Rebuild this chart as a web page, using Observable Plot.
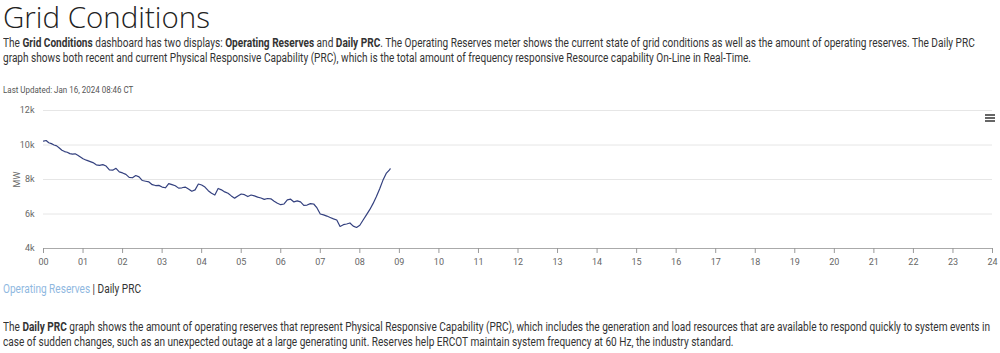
<!DOCTYPE html>
<html>
<head>
<meta charset="utf-8">
<script src="https://cdn.jsdelivr.net/npm/d3@7"></script>
<script src="https://cdn.jsdelivr.net/npm/@observablehq/plot@0.6"></script>
<style>
  body { margin: 0; background: #fff; font-family: Roboto, "Noto Sans", sans-serif; color: #333; }
  #page { position: relative; width: 1000px; height: 353px; overflow: hidden; }
  .abs { position: absolute; left: 3px; white-space: nowrap; }
  .sq { transform: scaleX(0.84); transform-origin: 0 50%; }
  #title { top: 0px; font-family: "Open Sans", sans-serif; font-weight: 300; font-size: 29.5px; line-height: 34px; color: #222; }
  .para { font-size: 12px; line-height: 15px; }
  #updated { top: 84px; font-size: 9.5px; line-height: 11px; color: #555; }
  #chart { position: absolute; left: 0; top: 100px; }
  #links { top: 282px; font-size: 12px; line-height: 15px; }
  #links .op { color: #8fb8df; }
  #menu { position: absolute; left: 985px; top: 114px; width: 10px; }
  #menu div { height: 1.5px; background: #666; margin-bottom: 1.6px; }
</style>
</head>
<body>
<div id="page">
  <div id="title" class="abs">Grid Conditions</div>
  <div class="abs para sq" style="top:36px">The <b>Grid Conditions</b> dashboard has two displays: <b>Operating Reserves</b> and <b>Daily PRC</b>. The Operating Reserves meter shows the current state of grid conditions as well as the amount of operating reserves. The Daily PRC<br>graph shows both recent and current Physical Responsive Capability (PRC), which is the total amount of frequency responsive Resource capability On-Line in Real-Time.</div>
  <div id="updated" class="abs sq">Last Updated: Jan 16, 2024 08:46 CT</div>
  <div id="chart"></div>
  <div id="menu"><div></div><div></div><div></div></div>
  <div id="links" class="abs sq"><span class="op">Operating Reserves</span> | Daily PRC</div>
  <div class="abs para sq" style="top:320px">The <b>Daily PRC</b> graph shows the amount of operating reserves that represent Physical Responsive Capability (PRC), which includes the generation and load resources that are available to respond quickly to system events in<br>case of sudden changes, such as an unexpected outage at a large generating unit. Reserves help ERCOT maintain system frequency at 60 Hz, the industry standard.</div>
</div>
<script>
const times = ["00:00","00:04","00:08","00:12","00:16","00:20","00:24","00:28","00:32","00:36","00:40","00:44","00:48","00:52","00:56",
"01:00","01:05","01:10","01:15","01:20","01:25","01:30","01:35","01:40","01:45","01:50","01:55",
"02:00","02:05","02:10","02:15","02:20","02:25","02:30","02:35","02:40","02:45","02:50","02:55",
"03:00","03:05","03:10","03:15","03:20","03:25","03:30","03:35","03:40","03:45","03:50","03:55",
"04:00","04:05","04:10","04:15","04:20","04:25","04:30","04:35","04:40","04:45","04:50","04:55",
"05:00","05:05","05:10","05:15","05:20","05:25","05:30","05:35","05:40","05:45","05:50","05:55",
"06:00","06:05","06:10","06:15","06:20","06:25","06:30","06:35","06:40","06:45","06:50","06:55",
"07:00","07:05","07:10","07:15","07:20","07:25","07:30","07:35","07:40","07:45","07:50","07:55",
"08:00","08:05","08:10","08:15","08:20","08:25","08:30","08:35","08:40","08:45","08:46"];
const prcMW = [10220,10260,10130,10080,10000,9950,9830,9700,9620,9580,9500,9470,9490,9400,9300,
9200,9120,9050,8980,8850,8820,8860,8780,8560,8540,8650,8440,
8380,8300,8120,8100,8230,8150,7940,7900,7860,7700,7650,7660,
7560,7520,7760,7700,7640,7500,7520,7560,7450,7320,7400,7740,
7680,7560,7350,7200,7100,7480,7400,7280,7200,7050,6920,7040,
7160,7120,7010,7100,7050,6980,6930,6850,6900,6880,6740,6620,
6540,6580,6820,6860,6700,6760,6700,6500,6520,6600,6580,6350,
6000,5950,5880,5800,5720,5650,5280,5380,5420,5480,5300,5220,
5350,5650,5950,6250,6600,7000,7450,7950,8350,8560,8620];
const yTicks = [4000, 6000, 8000, 10000, 12000];
const xTicks = d3.range(0, 25);

const data = times.map((t, i) => ({ h: +t.slice(0, 2) + +t.slice(3) / 60, v: prcMW[i] }));

const chart = Plot.plot({
  width: 1000,
  height: 170,
  marginTop: 10,
  marginLeft: 43,
  marginRight: 8,
  marginBottom: 22,
  style: { fontFamily: "Roboto, sans-serif", fontSize: "9px", color: "#666", background: "transparent" },
  x: { domain: [0, 24] },
  y: { domain: [4000, 12000] },
  marks: [
    Plot.gridY(yTicks.filter(d => d > 4000), { stroke: "#e6e6e6", strokeOpacity: 1 }),
    Plot.ruleY([4000], { stroke: "#aaa" }),
    Plot.axisX({ ticks: xTicks, tickFormat: d => String(d).padStart(2, "0"), tickSize: 5, tickPadding: 5, stroke: "#999", label: null }),
    Plot.axisY({ ticks: yTicks, tickFormat: d => d / 1000 + "k", tickSize: 0, tickPadding: 9, label: "MW", labelAnchor: "center", labelArrow: "none", labelOffset: 30 }),
    Plot.line(data, { x: "h", y: "v", stroke: "#34417f", strokeWidth: 1.2 })
  ]
});
document.getElementById("chart").appendChild(chart);
</script>
</body>
</html>
